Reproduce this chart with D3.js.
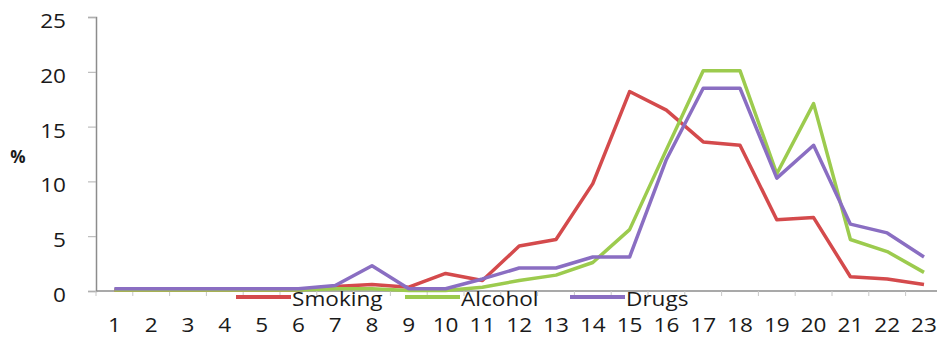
<!DOCTYPE html>
<html lang="en">
<head>
<meta charset="utf-8">
<title>Age of onset</title>
<script src="https://d3js.org/d3.v7.min.js"></script>
<style>
body { margin: 0; background: #fff; }
text { font-family: "Open Sans", sans-serif; fill: #1a1a1a; }
</style>
</head>
<body>
<script>

var ages = ["1","2","3","4","5","6","7","8","9","10","11","12","13","14","15","16","17","18","19","20","21","22","23"];
var smoking = [0.1,0.1,0.1,0.1,0.1,0.1,0.4,0.6,0.35,1.6,0.95,4.1,4.7,9.8,18.2,16.5,13.6,13.3,6.5,6.7,1.3,1.1,0.6];
var alcohol = [0.1,0.1,0.1,0.1,0.1,0.1,0.2,0.2,0.05,0.05,0.35,0.95,1.45,2.6,5.6,12.9,20.1,20.1,10.7,17.1,4.7,3.6,1.7];
var drugs = [0.2,0.2,0.2,0.2,0.2,0.2,0.5,2.3,0.2,0.2,1.1,2.1,2.1,3.1,3.1,12.0,18.5,18.5,10.3,13.3,6.1,5.3,3.1];
var yTicks = [0,5,10,15,20,25];
var seriesNames = ["Smoking","Alcohol","Drugs"];
var colors = ["#d44a4c","#9ccb4e","#8a6ec2"];

var width = 937, height = 337;
var plotLeft = 96, plotTop = 17, plotBottom = 291;
var stretch = 1.13;   // the source text looks wider than normal

var svg = d3.select("body").append("svg")
  .attr("width", width)
  .attr("height", height);

var x = d3.scaleBand()
  .domain(ages)
  .range([plotLeft, plotLeft + ages.length * 36.8]);

var y = d3.scaleLinear()
  .domain([0, 25])
  .range([plotBottom, plotTop]);

/* y axis */
var yAxis = svg.append("g")
  .attr("transform", "translate(" + plotLeft + ",0)")
  .call(d3.axisLeft(y).tickValues(yTicks).tickSize(8).tickFormat(""));
yAxis.select(".domain").attr("stroke", "#8c8c8c").attr("stroke-width", 1.5);
yAxis.selectAll(".tick line").attr("stroke", "#b0b0b0");

svg.selectAll(".ylabel")
  .data(yTicks)
  .enter().append("text")
  .attr("class", "ylabel")
  .attr("text-anchor", "end")
  .attr("font-size", 20)
  .attr("transform", function(d){ return "translate(66," + (y(d) + 11) + ") scale(" + stretch + ",1)" })
  .text(function(d){ return d });

/* x axis line and boundary ticks */
svg.append("line")
  .attr("x1", plotLeft).attr("x2", width)
  .attr("y1", plotBottom).attr("y2", plotBottom)
  .attr("stroke", "#8c8c8c").attr("stroke-width", 1.5);

svg.selectAll(".xtick")
  .data(ages)
  .enter().append("line")
  .attr("class", "xtick")
  .attr("x1", function(d){ return x(d) })
  .attr("x2", function(d){ return x(d) })
  .attr("y1", plotBottom).attr("y2", plotBottom + 5)
  .attr("stroke", "#c8c8c8");

svg.selectAll(".xlabel")
  .data(ages)
  .enter().append("text")
  .attr("class", "xlabel")
  .attr("text-anchor", "middle")
  .attr("font-size", 20)
  .attr("transform", function(d){ return "translate(" + (x(d) + x.bandwidth() / 2) + ",332) scale(" + stretch + ",1)" })
  .text(function(d){ return d });

svg.append("text")
  .attr("x", 18)
  .attr("y", 163)
  .attr("text-anchor", "middle")
  .attr("font-size", 17)
  .attr("font-weight", "bold")
  .text("%");

/* lines */
var line = d3.line()
  .x(function(d, i){ return x(ages[i]) + x.bandwidth() / 2 })
  .y(function(d){ return y(d) });

[smoking, alcohol, drugs].forEach(function(s, k) {
  svg.append("path")
    .datum(s)
    .attr("fill", "none")
    .attr("stroke", colors[k])
    .attr("stroke-width", 3.5)
    .attr("stroke-linejoin", "round")
    .attr("d", line);
});

/* legend */
var legendX = [236, 405, 570];
var leg = svg.selectAll(".leg")
  .data(seriesNames)
  .enter().append("g")
  .attr("class", "leg")
  .attr("transform", function(d, i){ return "translate(" + legendX[i] + ",297)" });

leg.append("line")
  .attr("x1", 0).attr("x2", 55)
  .attr("stroke", function(d, i){ return colors[i] })
  .attr("stroke-width", 4);

leg.append("text")
  .attr("font-size", 20)
  .attr("transform", "translate(56,9) scale(" + stretch + ",1)")
  .text(function(d){ return d });

</script>
</body>
</html>
